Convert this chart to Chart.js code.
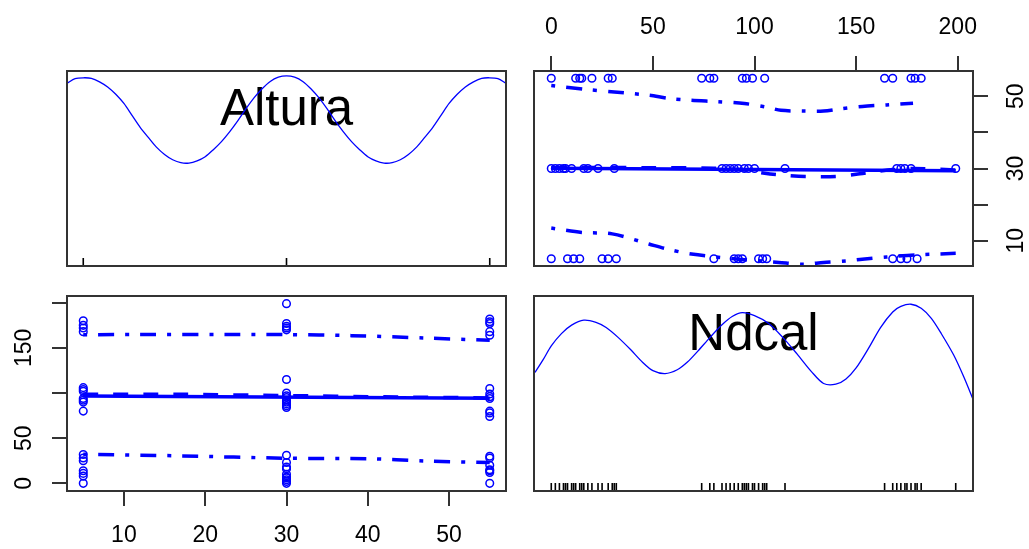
<!DOCTYPE html>
<html lang="es">
  <head>
    <meta charset="UTF-8" />
    <title>Matriz de dispersión: Altura y Ndcal</title>
    <style>
      html, body { margin: 0; padding: 0; background: #fff; }
      #lienzo { position: relative; width: 1029px; height: 549px; overflow: hidden; }
      #lienzo canvas { position: absolute; left: 0; top: 0; }
    </style>
  </head>
  <body>
    <div id="lienzo">
      <canvas id="c11" width="1029" height="549"></canvas>
      <canvas id="c12" width="1029" height="549"></canvas>
      <canvas id="c21" width="1029" height="549"></canvas>
      <canvas id="c22" width="1029" height="549"></canvas>
    </div>

    <script src="https://cdn.jsdelivr.net/npm/chart.js"></script>

    <script>
      // ---- datos ----
      const nivelesAltura = [5, 30, 55];
      const ndcalAltura5 = [0, 8, 11, 14, 25, 28, 32, 80, 90, 92, 94, 102, 104, 106, 168, 172, 175, 180];
      const ndcalAltura30 = [0, 2, 4, 6, 7, 10, 16, 18, 23, 31, 84, 86, 88, 90, 92, 95, 97, 100, 115, 170, 172, 174, 177, 199];
      const ndcalAltura55 = [0, 12, 14, 15, 20, 28, 30, 74, 78, 80, 94, 96, 99, 105, 164, 168, 177, 179, 182];

      // ticks
      const ticksAltura = [10, 20, 30, 40, 50];
      const etiquetasAlturaDer = [10, 30, 50];
      const etiquetasAlturaAbajo = [10, 20, 30, 40, 50];
      const ticksNdcal = [0, 50, 100, 150, 200];
      const etiquetasNdcalArriba = [0, 50, 100, 150, 200];
      const etiquetasNdcalIzq = [0, 50, 150];

      // densidades (relativas)
      const densAlturaX = [3, 4, 5, 6, 7, 8, 9, 10, 11, 12, 13, 14, 15, 16, 17, 18, 19, 20, 21, 22, 23, 24, 25, 26, 27, 28, 29, 30,
        31, 32, 33, 34, 35, 36, 37, 38, 39, 40, 41, 42, 43, 44, 45, 46, 47, 48, 49, 50, 51, 52, 53, 54, 55, 56, 57];
      const densAlturaY = [0.96, 0.985, 0.99, 0.987, 0.968, 0.94, 0.9, 0.85, 0.785, 0.72, 0.665, 0.612, 0.572, 0.543, 0.527, 0.525,
        0.537, 0.56, 0.598, 0.642, 0.695, 0.755, 0.82, 0.88, 0.93, 0.97, 0.993, 1.0,
        0.993, 0.97, 0.93, 0.88, 0.82, 0.755, 0.695, 0.642, 0.598, 0.56, 0.537, 0.525, 0.527, 0.543, 0.572, 0.612, 0.665, 0.72,
        0.785, 0.85, 0.9, 0.94, 0.968, 0.987, 0.99, 0.985, 0.96];
      const densNdcalX = [-8, -4, 0, 5, 10, 16, 22, 27, 33, 39, 45, 50, 56, 62, 67, 72, 78, 84, 89, 94, 100, 107, 114, 121, 128,
        134, 140, 145, 150, 156, 162, 168, 172, 177, 182, 187, 192, 198, 203, 208];
      const densNdcalY = [0.61, 0.68, 0.755, 0.822, 0.868, 0.895, 0.883, 0.855, 0.8, 0.735, 0.665, 0.62, 0.604, 0.625, 0.667,
        0.725, 0.8, 0.87, 0.915, 0.936, 0.92, 0.877, 0.8, 0.71, 0.615, 0.55, 0.546, 0.575, 0.635, 0.74, 0.855, 0.94, 0.97,
        0.982, 0.96, 0.905, 0.82, 0.705, 0.585, 0.45];

      // panel [1,2]: x = Ndcal, y = Altura
      const ajusteX12 = [0, 199];
      const ajusteY12 = [30.05, 29.4];
      const suaveX12 = [0, 20, 50, 80, 95, 105, 115, 125, 140, 150, 158, 168, 178, 199];
      const suaveY12 = [30.2, 30.3, 30.2, 30.1, 29.6, 28.7, 28.1, 27.8, 27.8, 28.4, 29.0, 29.7, 30.0, 29.6];
      const superiorX12 = [0, 17, 31, 48, 58, 69, 82, 95, 106, 113, 124, 134, 142, 153, 165, 178];
      const superiorY12 = [53.0, 51.9, 51.2, 50.3, 49.4, 48.9, 48.5, 48.0, 47.0, 46.1, 45.9, 45.9, 46.5, 47.2, 47.6, 48.1];
      const inferiorX12 = [0, 15, 30, 48, 57, 69, 90, 112, 124, 134, 145, 153, 165, 180, 199];
      const inferiorY12 = [13.5, 12.3, 11.9, 9.1, 7.7, 6.3, 5.0, 4.0, 3.5, 4.0, 4.4, 4.9, 5.5, 6.1, 6.5];

      // panel [2,1]: x = Altura, y = Ndcal
      const ajusteX21 = [5, 55];
      const ajusteY21 = [96.8, 94.3];
      const suaveX21 = [5, 17, 30, 42, 55];
      const suaveY21 = [98.8, 98.6, 97.2, 95.8, 94.6];
      const superiorX21 = [5, 30, 38, 47, 55];
      const superiorY21 = [164.7, 164.7, 163.6, 161.0, 158.4];
      const inferiorX21 = [5, 17, 30, 40, 47, 55];
      const inferiorY21 = [32.3, 30.4, 27.8, 27.3, 24.8, 23.0];

      // ---- estilo / layout ----
      Chart.defaults.font.family = "'Liberation Sans', Arial, sans-serif";
      Chart.defaults.animation = false;

      const AZUL = "#0000ff";
      const ANCHO = 1029, ALTO = 549;
      const cajas = {
        c11: [67, 71, 506, 266],
        c12: [534, 71, 973, 266],
        c21: [67, 296, 506, 491],
        c22: [534, 296, 973, 491],
      };
      const rangoAltura = { min: 3, max: 57 };
      const rangoNdcal = { min: -8.5, max: 207.5 };
      const rangoDens = { min: -0.036, max: 1.027 };

      const puntos = (xs, ys) => xs.map((x, i) => ({ x: x, y: ys[i] }));

      const marco = {
        id: "marco",
        afterDraw(chart) {
          const a = chart.chartArea;
          const ctx = chart.ctx;
          ctx.save();
          ctx.strokeStyle = "#333";
          ctx.lineWidth = 2;
          ctx.strokeRect(a.left, a.top, a.right - a.left, a.bottom - a.top);
          ctx.restore();
        },
      };

      const nombre = {
        id: "nombre",
        beforeDatasetsDraw(chart, args, opts) {
          if (!opts.texto) return;
          const a = chart.chartArea;
          const ctx = chart.ctx;
          ctx.save();
          ctx.fillStyle = "#000";
          ctx.font = "51px 'Liberation Sans', Arial, sans-serif";
          ctx.textAlign = "center";
          ctx.textBaseline = "alphabetic";
          ctx.fillText(opts.texto, (a.left + a.right) / 2, a.top + 54);
          ctx.restore();
        },
      };

      const rug = {
        id: "rug",
        afterDatasetsDraw(chart, args, opts) {
          if (!opts.valores) return;
          const a = chart.chartArea;
          const ctx = chart.ctx;
          ctx.save();
          ctx.strokeStyle = "#000";
          ctx.lineWidth = 1.6;
          ctx.beginPath();
          opts.valores.forEach((v) => {
            const x = chart.scales.x.getPixelForValue(v);
            ctx.moveTo(x, a.bottom);
            ctx.lineTo(x, a.bottom - 8);
          });
          ctx.stroke();
          ctx.restore();
        },
      };

      Chart.register(marco, nombre, rug);

      function nube(xs, ys) {
        return {
          data: puntos(xs, ys),
          pointStyle: "circle",
          pointRadius: 3.8,
          pointBorderWidth: 1.5,
          pointBorderColor: AZUL,
          pointBackgroundColor: "rgba(0,0,0,0)",
          order: 5,
        };
      }

      function linea(xs, ys, dash, ancho, tension) {
        return {
          data: puntos(xs, ys),
          showLine: true,
          borderColor: AZUL,
          borderWidth: ancho,
          borderDash: dash,
          pointRadius: 0,
          tension: tension || 0,
          fill: false,
          order: 1,
        };
      }

      const PUNTEADO = [4, 11, 16, 11];
      const GUIONES = [15, 15];

      function ejeOculto(rango) {
        return { type: "linear", display: false, min: rango.min, max: rango.max };
      }

      function ejeVisible(rango, posicion, ticks, etiquetas, tamano, relleno) {
        const vertical = posicion === "left" || posicion === "right";
        return {
          type: "linear",
          position: posicion,
          min: rango.min,
          max: rango.max,
          afterBuildTicks: (s) => { s.ticks = ticks.map((v) => ({ value: v })); },
          afterFit: (s) => { if (vertical) s.width = tamano; else s.height = tamano; },
          ticks: {
            autoSkip: false,
            color: "#000",
            font: { size: 23 },
            padding: relleno,
            minRotation: vertical ? 90 : 0,
            maxRotation: vertical ? 90 : 0,
            crossAlign: vertical ? "center" : "near",
            callback: (v) => (etiquetas.includes(v) ? String(v) : ""),
          },
          grid: { drawOnChartArea: false, drawTicks: true, tickLength: 15, color: "#333", lineWidth: 2 },
          border: { display: false },
        };
      }

      function opciones(id, escalas, extra) {
        const [l, t, r, b] = cajas[id];
        const pad = { left: l, top: t, right: ANCHO - r, bottom: ALTO - b };
        if (escalas.x.display !== false) {
          if (escalas.x.position === "top") pad.top = 0; else pad.bottom = 0;
        }
        if (escalas.y.display !== false) {
          if (escalas.y.position === "right") pad.right = 0; else pad.left = 0;
        }
        return {
          responsive: false,
          animation: false,
          events: [],
          layout: { padding: pad },
          scales: escalas,
          plugins: Object.assign({ legend: { display: false }, tooltip: { enabled: false } }, extra),
        };
      }

      const todosNdcal = ndcalAltura5.concat(ndcalAltura30, ndcalAltura55);

      // [1,1] densidad de Altura
      new Chart(document.getElementById("c11"), {
        type: "scatter",
        data: { datasets: [linea(densAlturaX, densAlturaY, [], 1.3, 0.3)] },
        options: opciones("c11", { x: ejeOculto(rangoAltura), y: ejeOculto(rangoDens) },
          { nombre: { texto: "Altura" }, rug: { valores: nivelesAltura } }),
      });

      // [1,2] Altura ~ Ndcal
      new Chart(document.getElementById("c12"), {
        type: "scatter",
        data: {
          datasets: [
            nube(ndcalAltura5, ndcalAltura5.map(() => nivelesAltura[0])),
            nube(ndcalAltura30, ndcalAltura30.map(() => nivelesAltura[1])),
            nube(ndcalAltura55, ndcalAltura55.map(() => nivelesAltura[2])),
            linea(ajusteX12, ajusteY12, [], 3.5),
            linea(suaveX12, suaveY12, GUIONES, 3.5, 0.3),
            linea(superiorX12, superiorY12, PUNTEADO, 3.5, 0.3),
            linea(inferiorX12, inferiorY12, PUNTEADO, 3.5, 0.3),
          ],
        },
        options: opciones("c12", {
          x: ejeVisible(rangoNdcal, "top", ticksNdcal, etiquetasNdcalArriba, cajas.c12[1], 15),
          y: ejeVisible(rangoAltura, "right", ticksAltura, etiquetasAlturaDer, ANCHO - cajas.c12[2], 16),
        }, {}),
      });

      // [2,1] Ndcal ~ Altura
      new Chart(document.getElementById("c21"), {
        type: "scatter",
        data: {
          datasets: [
            nube(ndcalAltura5.map(() => nivelesAltura[0]), ndcalAltura5),
            nube(ndcalAltura30.map(() => nivelesAltura[1]), ndcalAltura30),
            nube(ndcalAltura55.map(() => nivelesAltura[2]), ndcalAltura55),
            linea(ajusteX21, ajusteY21, [], 3.5),
            linea(suaveX21, suaveY21, GUIONES, 3.5, 0.3),
            linea(superiorX21, superiorY21, PUNTEADO, 3.5, 0.3),
            linea(inferiorX21, inferiorY21, PUNTEADO, 3.5, 0.3),
          ],
        },
        options: opciones("c21", {
          x: ejeVisible(rangoAltura, "bottom", ticksAltura, etiquetasAlturaAbajo, ALTO - cajas.c21[3], 16),
          y: ejeVisible(rangoNdcal, "left", ticksNdcal, etiquetasNdcalIzq, cajas.c21[0], 8),
        }, {}),
      });

      // [2,2] densidad de Ndcal
      new Chart(document.getElementById("c22"), {
        type: "scatter",
        data: { datasets: [linea(densNdcalX, densNdcalY, [], 1.3, 0.3)] },
        options: opciones("c22", { x: ejeOculto(rangoNdcal), y: ejeOculto(rangoDens) },
          { nombre: { texto: "Ndcal" }, rug: { valores: todosNdcal } }),
      });
    </script>
  </body>
</html>
